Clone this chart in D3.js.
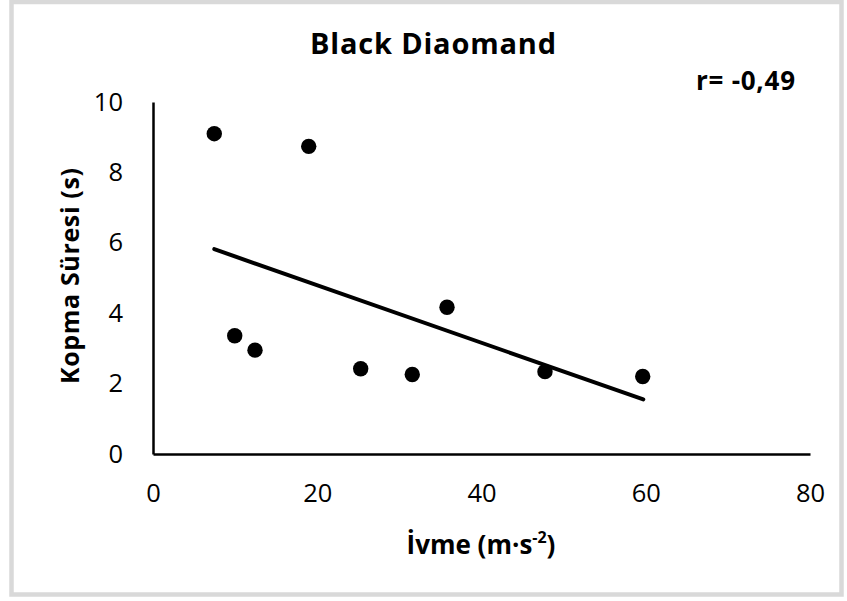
<!DOCTYPE html>
<html>
<head>
<meta charset="utf-8">
<script src="https://cdn.jsdelivr.net/npm/d3@7"></script>
<style>
  body { margin: 0; background: #fff; }
  text { font-family: "Open Sans", Lato, sans-serif; fill: #000; }
</style>
</head>
<body>
<div id="chart-area"></div>
<script>
// values
const ivme = [7.46, 18.96, 9.95, 12.42, 25.29, 31.57, 35.8, 47.73, 59.63];
const kopmaSuresi = [9.10, 8.74, 3.36, 2.95, 2.42, 2.26, 4.17, 2.34, 2.20];
const trendX = [7.46, 59.7];
const trendY = [5.82, 1.55];
const xTicks = [0, 20, 40, 60, 80];
const yTicks = [0, 2, 4, 6, 8, 10];

const W = 847, H = 601;
const margins = { top: 102, right: 37, bottom: 147, left: 153 },
    chartWidth = W - margins.left - margins.right,
    chartHeight = H - margins.top - margins.bottom;

const svg = d3.select("#chart-area")
    .append("svg")
    .attr("width", W)
    .attr("height", H);

// outer chart border
svg.append("rect")
    .attr("x", 11.5).attr("y", 2)
    .attr("width", 830).attr("height", 592.5)
    .attr("fill", "#fff")
    .attr("stroke", "#d9d9d9")
    .attr("stroke-width", 4.5);

const g = svg.append("g")
    .attr("transform", `translate(${margins.left},${margins.top})`);

const scaleX = d3.scaleLinear().domain([0, 80]).range([0, chartWidth]);
const scaleY = d3.scaleLinear().domain([0, 10]).range([chartHeight, 0]);

const bottomAxis = d3.axisBottom(scaleX).tickValues(xTicks).tickSize(0).tickPadding(31);
const leftAxis = d3.axisLeft(scaleY).tickValues(yTicks).tickSize(0).tickPadding(30);

const xg = g.append("g")
    .attr("transform", `translate(0,${chartHeight})`)
    .call(bottomAxis);
const yg = g.append("g").call(leftAxis);

[xg, yg].forEach(a => {
    a.select(".domain").attr("stroke", "#000").attr("stroke-width", 2.5);
    a.selectAll("text").attr("font-size", "25.5px").attr("font-family", "'Open Sans', sans-serif");
});
xg.selectAll("text").attr("dy", "0.68em");

// trend line
const pts = trendX.map((x, i) => [x, trendY[i]]);
g.append("path")
    .attr("d", d3.line().x(d => scaleX(d[0])).y(d => scaleY(d[1]))(pts))
    .attr("fill", "none")
    .attr("stroke", "#000")
    .attr("stroke-width", 4)
    .attr("stroke-linecap", "round");

// points
g.selectAll("circle")
    .data(ivme.map((x, i) => ({ x, y: kopmaSuresi[i] })))
    .enter().append("circle")
    .attr("cx", d => scaleX(d.x))
    .attr("cy", d => scaleY(d.y))
    .attr("r", 7.7)
    .attr("fill", "#000");

// title
svg.append("text")
    .attr("x", 433).attr("y", 54)
    .attr("text-anchor", "middle")
    .attr("font-size", "29px")
    .attr("font-weight", "bold")
    .attr("textLength", 246)
    .text("Black Diaomand");

svg.append("text")
    .attr("x", 795).attr("y", 90)
    .attr("text-anchor", "end")
    .attr("font-size", "26px")
    .attr("font-weight", "bold")
    .attr("textLength", 99)
    .text("r= -0,49");

// axis labels
svg.append("text")
    .attr("transform", "rotate(-90)")
    .attr("x", -276).attr("y", 79)
    .attr("text-anchor", "middle")
    .attr("font-size", "25px")
    .attr("font-weight", "bold")
    .attr("textLength", 216)
    .text("Kopma Süresi (s)");

const xl = svg.append("text")
    .attr("x", 481).attr("y", 554)
    .attr("text-anchor", "middle")
    .attr("font-size", "26px")
    .attr("font-weight", "bold");
xl.append("tspan").text("İvme (m·s");
xl.append("tspan").attr("font-size", "16px").attr("dy", -11).text("-2");
xl.append("tspan").attr("dy", 11).text(")");
</script>
</body>
</html>
